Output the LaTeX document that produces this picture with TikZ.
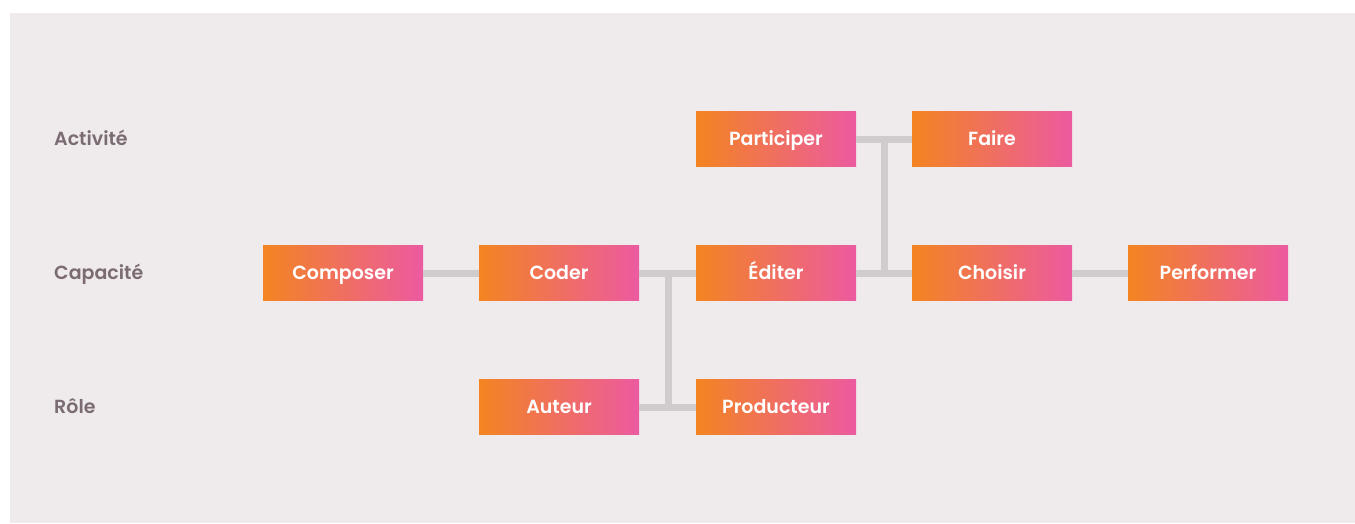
\documentclass[tikz,border=0pt]{standalone}
\usepackage{fontspec}
\setmainfont{Poppins}[BoldFont={Poppins SemiBold}]
\usepackage{tikz}
\definecolor{bgcol}{HTML}{EFEBEC}
\definecolor{ecol}{HTML}{D0CBCD}
\definecolor{lcol}{HTML}{7B6B73}
\definecolor{gorange}{HTML}{F38421}
\definecolor{gpink}{HTML}{EC5AA0}
\tikzstyle{box}=[rectangle, left color=gorange, right color=gpink, minimum width=160pt, minimum height=55pt, inner sep=0pt, text height=13.5pt, text depth=0pt, text=white, font=\fontsize{19}{23}\selectfont\bfseries]
\tikzstyle{edge}=[line width=7pt,ecol]
\tikzstyle{level}=[anchor=west, inner sep=0pt, text height=13.5pt, text depth=0pt, text=lcol, font=\fontsize{19}{23}\selectfont\bfseries]

\begin{document}
\begin{tikzpicture}[x=1pt,y=-1pt]
			\useasboundingbox (0,0) rectangle (1355,523);
			\fill[bgcol] (10,13) rectangle (1355,523);

			\node[level] (act) at (54, 139) {Activité};
			\node[level] (cap) at (54, 273) {Capacité};
			\node[level] (rol) at (54, 407) {Rôle};

			\node[box] (part) at (776, 139) {Participer};
			\node[box] (faire) at (992, 139) {Faire};
			\node[box] (comp) at (343, 273) {Composer};
			\node[box] (cod) at (559, 273) {Coder};
			\node[box] (edit) at (776, 273) {Éditer};
			\node[box] (chois) at (992, 273) {Choisir};
			\node[box] (perf) at (1208, 273) {Performer};
			\node[box] (aut) at (559, 407) {Auteur};
			\node[box] (prod) at (776, 407) {Producteur};

			\coordinate (ja) at (884, 139);
			\coordinate (jb) at (884, 273);
			\coordinate (jc) at (668, 273);
			\coordinate (jd) at (668, 407);

			% Horizontal
			\draw[edge] (part.east)--(faire.west);
			\draw[edge] (comp.east)--(cod.west) (cod.east)--(edit.west);
			\draw[edge] (edit.east)--(chois.west) (chois.east)--(perf.west);
			\draw[edge] (aut.east)--(prod.west);
			% Vertical bars
			\draw[edge] (ja)--(jb) (jc)--(jd);
		\end{tikzpicture}
\end{document}
